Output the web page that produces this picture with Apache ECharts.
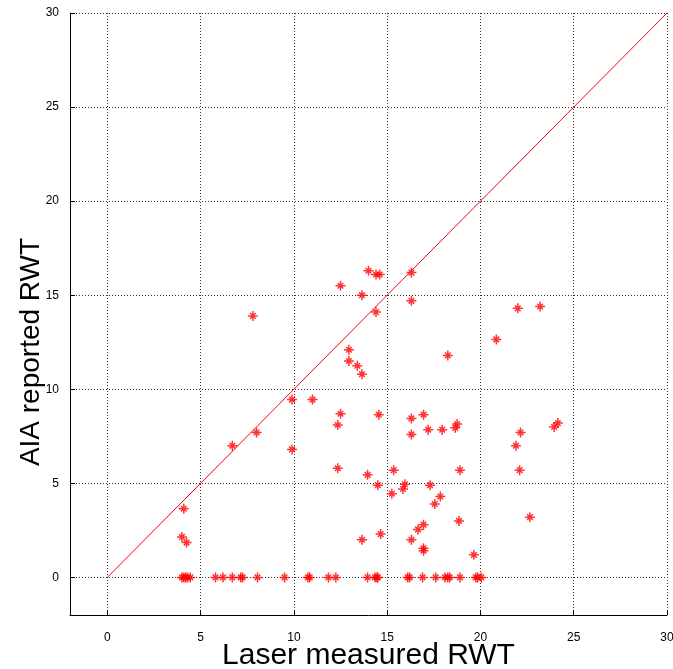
<!DOCTYPE html>
<html>
<head>
<meta charset="utf-8">
<script src="https://cdn.jsdelivr.net/npm/echarts@6/dist/echarts.min.js"></script>
<style>
  html, body { margin: 0; padding: 0; background: #fff; }
  #chart { width: 673px; height: 669px; }
</style>
</head>
<body>
<div id="chart"></div>
<script>
// Laser-measured vs AIA-reported RWT, one entry per sample
const laserRWT = [
  7.8, 9.9, 8.0, 6.7, 9.9,
  14.0, 14.4, 14.6, 16.3, 12.5, 13.65, 16.3, 14.4, 22.0, 23.2, 20.85, 12.95, 12.95, 13.4, 13.65, 18.25,
  11.0, 12.5, 14.55, 12.35, 16.3, 16.95, 16.3, 17.2, 17.95, 18.65, 18.75, 22.15, 21.9, 24.15, 23.95,
  12.35, 13.95, 14.5, 15.35, 15.25, 15.95, 15.85, 17.3, 17.85, 17.55, 18.9, 22.1, 22.65, 18.85,
  13.65, 14.65, 16.3, 16.95, 16.65, 16.95, 16.95, 19.65,
  4.1, 4.0, 4.25,
  4.0, 4.1, 4.2, 4.3, 4.45, 5.8, 6.2, 6.7, 7.15, 7.25, 8.05, 9.5, 10.75, 10.85, 11.85, 12.25,
  13.95, 14.35, 14.45, 14.5, 16.1, 16.2, 16.9, 17.6, 18.1, 18.25, 18.35, 18.9, 19.75, 19.85, 20.05
];
const aiaRWT = [
  13.9, 9.45, 7.7, 7.0, 6.8,
  16.3, 16.1, 16.1, 16.2, 15.5, 15.0, 14.7, 14.1, 14.3, 14.4, 12.65, 12.1, 11.5, 11.25, 10.8, 11.8,
  9.45, 8.7, 8.65, 8.1, 8.45, 8.65, 7.6, 7.85, 7.85, 7.95, 8.15, 7.7, 7.0, 8.2, 8.0,
  5.8, 5.45, 4.9, 5.7, 4.45, 4.95, 4.7, 4.9, 4.3, 3.9, 5.7, 5.7, 3.2, 3.0,
  2.0, 2.3, 2.0, 2.8, 2.55, 1.55, 1.42, 1.2,
  3.65, 2.15, 1.85,
  0, 0, 0, 0, 0, 0, 0, 0, 0, 0, 0, 0, 0, 0, 0, 0,
  0, 0, 0, 0, 0, 0, 0, 0, 0, 0, 0, 0, 0, 0, 0
];
// y = x reference line end points
const identityLine = [[0, 0], [30, 30]];
const tickValues = [0, 5, 10, 15, 20, 25, 30];
const xAxisTitle = 'Laser measured RWT';
const yAxisTitle = 'AIA reported RWT';

const points = laserRWT.map((x, i) => [x, aiaRWT[i]]);

const asterisk = 'path://M0,5L10,5M5,0L5,10M2.2,2.2L7.8,7.8M7.8,2.2L2.2,7.8';
const font = 'Liberation Sans';

function axisCfg(name, isX) {
  return {
    type: 'value',
    min: -2,
    max: 30,
    name: name,
    nameLocation: 'middle',
    nameMoveOverlap: false,
    nameGap: isX ? 26 : 25,
    nameTextStyle: {
      fontFamily: font,
      fontSize: isX ? 30 : 28,
      color: '#000',
      // the vertical title sits a little below the middle of the axis
      padding: isX ? 0 : [0, 76, 0, 0]
    },
    axisLine: { show: true, onZero: false, lineStyle: { color: '#000', width: 1 } },
    axisTick: { show: true, inside: true, length: 5, customValues: tickValues, lineStyle: { color: '#000' } },
    axisLabel: { customValues: tickValues, fontFamily: font, fontSize: 12, color: '#000', margin: isX ? 17 : 11 },
    splitLine: { show: true, lineStyle: { color: '#333', width: 1, type: [1, 2] } }
  };
}

const chart = echarts.init(document.getElementById('chart'));
chart.setOption({
  animation: false,
  backgroundColor: '#fff',
  grid: { left: 70, right: 6, top: 13, bottom: 54, containLabel: false, outerBoundsMode: 'none' },
  xAxis: axisCfg(xAxisTitle, true),
  yAxis: axisCfg(yAxisTitle, false),
  series: [
    {
      type: 'line',
      data: identityLine,
      symbol: 'none',
      color: '#ff0000',
      itemStyle: { color: '#ff0000' },
      lineStyle: { color: '#ff0000', width: 1 },
      silent: true,
      z: 2
    },
    {
      type: 'scatter',
      data: points,
      symbol: asterisk,
      symbolSize: 10,
      color: '#ff0000',
      itemStyle: { color: 'rgba(0,0,0,0)', borderColor: '#ff0000', borderWidth: 1.5 },
      z: 3
    }
  ]
});
</script>
</body>
</html>
